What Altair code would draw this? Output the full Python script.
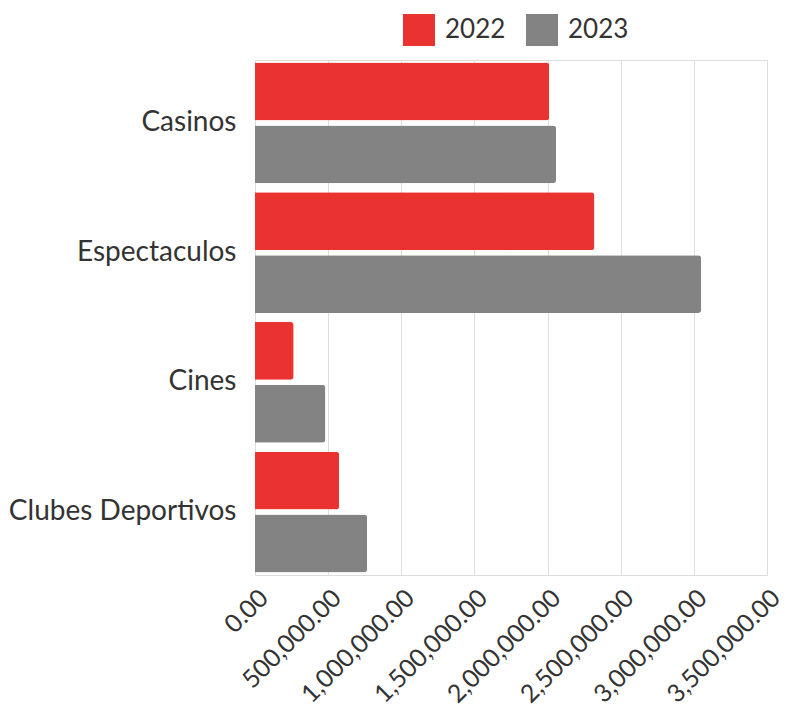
import altair as alt
import pandas as pd

categories = ["Casinos", "Espectaculos", "Cines", "Clubes Deportivos"]
years = ["2022", "2023"]
values_2022 = [2011000, 2320000, 264000, 575000]
values_2023 = [2058000, 3050000, 481000, 766000]

rows = []
for c, v22, v23 in zip(categories, values_2022, values_2023):
    rows.append({"Categoria": c, "Año": "2022", "Valor": v22})
    rows.append({"Categoria": c, "Año": "2023", "Valor": v23})
df = pd.DataFrame(rows)

font = "Lato"

chart = alt.Chart(df).mark_bar(cornerRadiusEnd=3).encode(
    y=alt.Y("Categoria:N", sort=categories, title=None,
            scale=alt.Scale(paddingInner=0.07, paddingOuter=0.02),
            axis=alt.Axis(labelFontSize=28, labelColor="#333333", labelFont=font,
                          labelLimit=0, ticks=False, domain=False, labelPadding=19)),
    yOffset=alt.YOffset("Año:N", sort=years, scale=alt.Scale(paddingInner=0.08)),
    x=alt.X("Valor:Q", title=None,
            scale=alt.Scale(domain=[0, 3500000], nice=False),
            axis=alt.Axis(values=[0, 500000, 1000000, 1500000, 2000000, 2500000, 3000000, 3500000],
                          format=",.2f", labelAngle=-45, labelFontSize=25, labelFont=font,
                          labelColor="#333333", ticks=False, domain=False, labelOverlap=False,
                          gridColor="#dddddd", labelPadding=10)),
    color=alt.Color("Año:N", sort=years,
                    scale=alt.Scale(domain=years, range=["#EA3230", "#838383"]),
                    legend=alt.Legend(orient="none", direction="horizontal", title=None,
                                      legendX=148, legendY=-46, symbolType="square",
                                      symbolSize=1024, symbolStrokeWidth=0,
                                      labelFontSize=26, labelFont=font, labelColor="#333333",
                                      columnPadding=20, labelOffset=10)),
).properties(
    width=777, height=700,
    autosize=alt.AutoSizeParams(type="fit", contains="padding"),
).configure_view(stroke=None).configure(
    padding={"left": 0, "top": 52, "right": 0, "bottom": 0}
)

chart.save("out.html", embed_options={"renderer": "svg", "actions": False})
